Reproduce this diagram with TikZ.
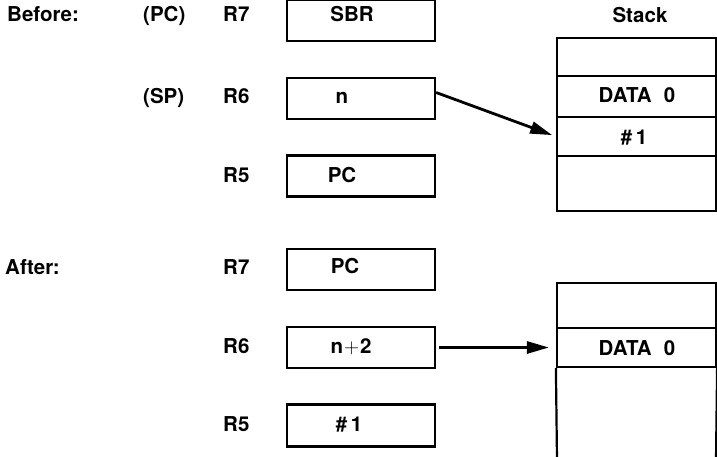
\documentclass[tikz,border=0pt]{standalone}
\usepackage{fontspec}
\setmainfont{TeX Gyre Heros}
\usetikzlibrary{arrows.meta}
\begin{document}
\begin{tikzpicture}[x=1pt,y=-1pt,
  lbl/.style={font=\fontsize{20.5}{24}\selectfont\bfseries, inner sep=0pt},
  reg/.style={draw, line width=2.2pt, minimum width=148pt, minimum height=41pt, inner sep=0pt},
  cell/.style={draw, line width=2.2pt, minimum width=159pt, inner sep=0pt},
  arr/.style={line width=2.8pt, -{Triangle[length=22pt,width=12pt]}}]
\useasboundingbox[fill=white] (0,0) rectangle (717,456);

% ---- Before ----
\node[lbl, anchor=base west] (before) at (7,21) {Before:};
\node[lbl, anchor=base west] (pcl) at (143,21) {(PC)};
\node[lbl, anchor=base west] (spl) at (143,103) {(SP)};
\node[lbl, anchor=base west] (r7b) at (223,21) {R7};
\node[lbl, anchor=base west] (r6b) at (223,103) {R6};
\node[lbl, anchor=base west] (r5b) at (223,182) {R5};

\node[reg] (b7) at (361,20.5) {};
\node[reg] (b6) at (361,98.5) {};
\node[reg] (b5) at (361,176) {};
\node[lbl, anchor=base] (b7t) at (352,21) {SBR};
\node[lbl, anchor=base] (b6t) at (342,103) {n};
\node[lbl, anchor=base] (b5t) at (342,182) {PC};

\node[lbl, anchor=base] (stack) at (640,22) {Stack};
\node[cell, minimum height=38pt] (s1) at (636.5,57) {};
\node[cell, minimum height=41pt] (s2) at (636.5,96.5) {};
\node[cell, minimum height=39pt] (s3) at (636.5,136.5) {};
\node[cell, minimum height=55pt] (s4) at (636.5,183.5) {};
\node[lbl, anchor=base] (s2t) at (637,102) {DATA\hspace{0.6em}0};
\node[lbl, anchor=base] (s3t) at (634,144) {\#\hspace{0.18em}1};

\draw[arr, shorten >=4pt] ([yshift=6pt]b6.east) -- (s3.west);

% ---- After ----
\node[lbl, anchor=base west] (after) at (5,274) {After:};
\node[lbl, anchor=base west] (r7a) at (223,274) {R7};
\node[lbl, anchor=base west] (r6a) at (223,353) {R6};
\node[lbl, anchor=base west] (r5a) at (223,431) {R5};

\node[reg] (a7) at (361,269.5) {};
\node[reg] (a6) at (361,347.5) {};
\node[reg, minimum height=42pt] (a5) at (361,425.5) {};
\node[lbl, anchor=base] (a7t) at (345,273) {PC};
\node[lbl, anchor=base] (a6t) at (351,353) {n\hspace{0.05em}$+$\hspace{0.05em}2};
\node[lbl, anchor=base] (a5t) at (349,431) {\#\hspace{0.18em}1};

\node[cell, minimum height=45pt] (t1) at (636.5,305.5) {};
\node[cell, minimum height=39pt] (t2) at (636.5,347.5) {};
\node[lbl, anchor=base] (t2t) at (637,355) {DATA\hspace{0.6em}0};
\coordinate (tbl) at (557,460);
\coordinate (tbr) at (716,460);
\draw[line width=2.2pt] (t2.south west) -- (tbl);
\draw[line width=2.2pt] (t2.south east) -- (tbr);

\draw[arr, shorten >=7pt, shorten <=3pt] (a6.east) -- (t2.west);
\end{tikzpicture}
\end{document}
